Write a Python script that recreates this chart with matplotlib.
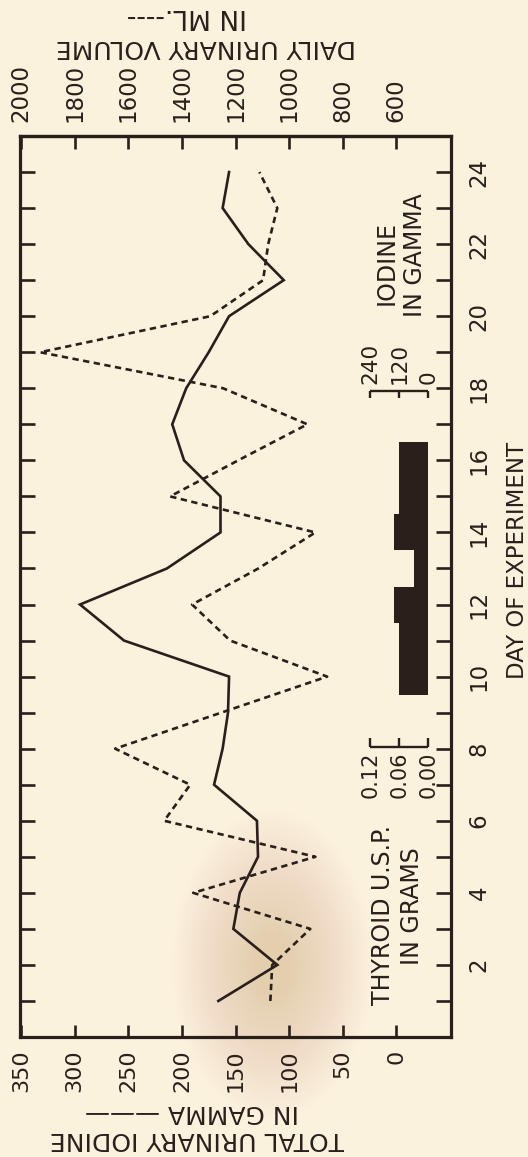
import matplotlib
matplotlib.use("Agg")
import matplotlib.pyplot as plt
from matplotlib.patches import Ellipse
import numpy as np

# ---------------- data ----------------
days = list(range(1, 25))
iodine_gamma = [166, 111, 152, 146, 129, 130, 170, 162, 157, 156, 254, 295,
                214, 164, 164, 198, 209, 196, 175, 156, 105, 138, 162, 156]
volume_ml = [1070, 1063, 921, 1358, 902, 1466, 1369, 1649, 1253, 858, 1220, 1362,
             1115, 902, 1444, 1190, 932, 1246, 1929, 1294, 1097, 1078, 1044, 1111]
dose_days = [10, 11, 12, 13, 14, 15, 16]
dose_grams = [0.06, 0.06, 0.07, 0.03, 0.07, 0.06, 0.06]

iodine_ticks = [0, 50, 100, 150, 200, 250, 300, 350]
volume_ticks = [600, 800, 1000, 1200, 1400, 1600, 1800, 2000]
day_label_ticks = [2, 4, 6, 8, 10, 12, 14, 16, 18, 20, 22, 24]
day_minor_ticks = [1, 3, 5, 7, 9, 11, 13, 15, 17, 19, 21, 23]
dose_scale = [0.00, 0.06, 0.12]
dose_scale_labels = ["0.00", "0.06", "0.12"]
iod_scale_labels = ["0", "120", "240"]

# ---------------- style ----------------
BG = "#fbf2de"
INK = "#2a1f1b"
FONT = "DejaVu Sans"
plt.rcParams["font.family"] = [FONT]

W, H = 528, 1157
fig = plt.figure(figsize=(W / 100, H / 100), dpi=100)
fig.patch.set_facecolor(BG)


def fx(x):
    return x / W


def fy(y):
    return 1 - y / H


# faint, soft stain in the paper
for a in np.linspace(1.0, 0.2, 24):
    fig.add_artist(Ellipse((fx(272), fy(965)), width=fx(200) * a, height=(310 / H) * a,
                           facecolor="#cf9e63", edgecolor="none", alpha=0.015,
                           transform=fig.transFigure, zorder=-5))

L, R, T, B = 20, 451, 136, 1037
ax = fig.add_axes([fx(L), fy(B), (R - L) / W, (B - T) / H])
ax.set_facecolor("none")
ax.set_xlim(351, -51)
ax.set_ylim(0, 25)


def vol_to_iod(v):
    return (np.asarray(v, dtype=float) - 600.0) / 4.0


def iod_to_vol(i):
    return np.asarray(i, dtype=float) * 4.0 + 600.0


# dose scale expressed in iodine-axis units (0.06 g <-> 120 gamma position)
DOSE0 = -29.9
DOSE_K = 451.7


def dose_to_x(g):
    return DOSE0 + np.asarray(g, dtype=float) * DOSE_K


# ---------------- series ----------------
ax.plot(iodine_gamma, days, color=INK, lw=1.9, solid_joinstyle="miter", zorder=3)
ax.plot(vol_to_iod(volume_ml), days, color=INK, lw=1.9, ls=(0, (2.4, 1.7)), zorder=3)

ax.barh(dose_days, dose_to_x(dose_grams) - DOSE0, left=DOSE0, height=1.0,
        color=INK, edgecolor="none", zorder=2)

# dose bracket (THYROID scale)
ybr = 8.05
ax.plot(dose_to_x([0.0, 0.12]), [ybr, ybr], color=INK, lw=1.7, solid_capstyle="butt")
for g in dose_scale:
    ax.plot([dose_to_x(g)] * 2, [ybr, ybr + 0.24], color=INK, lw=1.7, solid_capstyle="butt")
for g, lab in zip(dose_scale, dose_scale_labels):
    ax.text(dose_to_x(g), ybr - 0.14, lab, rotation=90, ha="center", va="top",
            fontsize=15, color=INK)

# iodine bracket (IODINE IN GAMMA scale)
yib = 17.92
ax.plot(dose_to_x([0.0, 0.12]), [yib, yib], color=INK, lw=1.7, solid_capstyle="butt")
for g in dose_scale:
    ax.plot([dose_to_x(g)] * 2, [yib, yib - 0.18], color=INK, lw=1.7, solid_capstyle="butt")
for g, lab in zip(dose_scale, iod_scale_labels):
    ax.text(dose_to_x(g), yib + 0.2, lab, rotation=90, ha="center", va="bottom",
            fontsize=15.5, color=INK)

# ---------------- axes / ticks ----------------
for s in ax.spines.values():
    s.set_linewidth(2.3)
    s.set_color(INK)

ax.set_xticks(iodine_ticks)
ax.set_xticklabels([str(v) for v in iodine_ticks], rotation=90)
ax.tick_params(axis="x", bottom=True, top=False, direction="in", length=9, width=1.9,
               colors=INK, labelsize=16, pad=9)
for t in ax.get_xticklabels():
    t.set_va("top")

sec = ax.secondary_xaxis("top", functions=(iod_to_vol, vol_to_iod))
sec.set_xticks(volume_ticks)
sec.set_xticklabels([str(v) for v in volume_ticks], rotation=90)
sec.tick_params(axis="x", direction="in", length=9, width=1.9, colors=INK,
                labelsize=16.5, pad=10)
sec.spines["top"].set_linewidth(2.3)
sec.spines["top"].set_color(INK)

ax.set_yticks(day_label_ticks)
ax.set_yticks(day_minor_ticks, minor=True)
ax.set_yticklabels([str(d) for d in day_label_ticks])
ax.tick_params(axis="y", which="both", left=True, right=True, labelleft=False,
               labelright=True, direction="in", length=11, width=1.9, colors=INK,
               labelsize=16.5, pad=12, labelrotation=90)
for t in ax.get_yticklabels():
    t.set_va("center")

# ---------------- labels ----------------
fig.text(fx(517), fy(560), "DAY OF EXPERIMENT", rotation=90, ha="center", va="center",
         fontsize=16.5, color=INK)
fig.text(fx(197), fy(1139), "TOTAL URINARY IODINE", rotation=180, ha="center",
         va="center", fontsize=18, color=INK)
fig.text(fx(192), fy(1112), "IN GAMMA \u2014\u2014\u2014", rotation=180, ha="center",
         va="center", fontsize=18, color=INK)
fig.text(fx(206), fy(47), "DAILY URINARY VOLUME", rotation=180, ha="center",
         va="center", fontsize=18, color=INK)
fig.text(fx(187), fy(16), "IN ML.----", rotation=180, ha="center", va="center",
         fontsize=19, color=INK)

fig.text(fx(383), fy(1005), "THYROID U.S.P.", rotation=90, ha="center", va="bottom",
         fontsize=17, color=INK)
fig.text(fx(412), fy(965), "IN GRAMS", rotation=90, ha="center", va="bottom",
         fontsize=17, color=INK)
fig.text(fx(387), fy(305), "IODINE", rotation=90, ha="center", va="bottom",
         fontsize=17, color=INK)
fig.text(fx(415), fy(317), "IN GAMMA", rotation=90, ha="center", va="bottom",
         fontsize=17, color=INK)

fig.savefig("out.png", dpi=100, facecolor=BG)
